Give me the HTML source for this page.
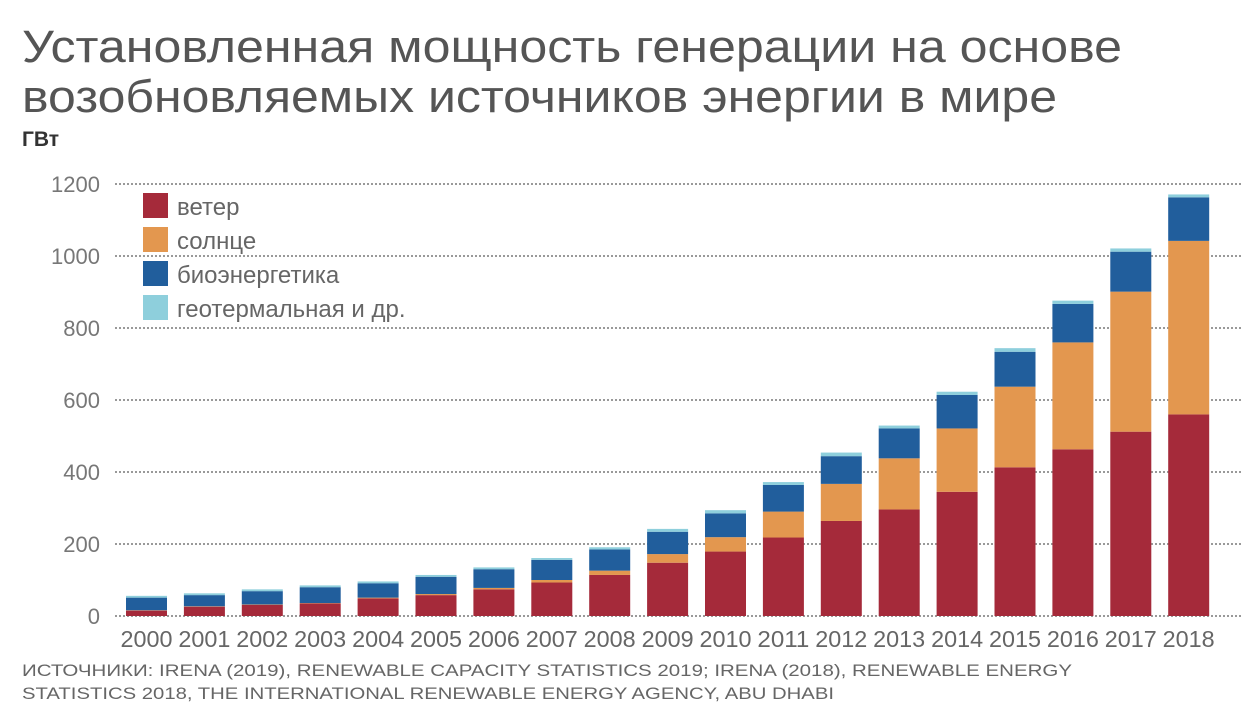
<!DOCTYPE html>
<html><head><meta charset="utf-8">
<style>
body{margin:0;background:#fff;width:1248px;height:720px;overflow:hidden;font-family:"Liberation Sans","DejaVu Sans",sans-serif}
svg text{font-family:"Liberation Sans","DejaVu Sans",sans-serif}
</style></head>
<body>
<svg id="chart" width="1248" height="720" xmlns="http://www.w3.org/2000/svg">
<text x="22" y="62" font-size="45" fill="#555" textLength="1100" lengthAdjust="spacingAndGlyphs">Установленная мощность генерации на основе</text>
<text x="22" y="112" font-size="45" fill="#555" textLength="1035" lengthAdjust="spacingAndGlyphs">возобновляемых источников энергии в мире</text>
<text x="22" y="146" font-size="21" font-weight="bold" fill="#333">ГВт</text>
<g id="grid"></g><g id="bars"></g><g id="xlabels"></g>
<g>
<rect x="143" y="193" width="25" height="25" fill="#a52a3a"/>
<text x="177" y="215" font-size="24" fill="#666">ветер</text>
<rect x="143" y="227" width="25" height="25" fill="#e3974f"/>
<text x="177" y="249" font-size="24" fill="#666">солнце</text>
<rect x="143" y="261" width="25" height="25" fill="#215e9c"/>
<text x="177" y="283" font-size="24" fill="#666">биоэнергетика</text>
<rect x="143" y="295" width="25" height="25" fill="#8ecfdc"/>
<text x="177" y="317" font-size="24" fill="#666">геотермальная и др.</text>
</g>
<text x="22" y="676" font-size="17" fill="#666" textLength="1050" lengthAdjust="spacingAndGlyphs">ИСТОЧНИКИ: IRENA (2019), RENEWABLE CAPACITY STATISTICS 2019; IRENA (2018), RENEWABLE ENERGY</text>
<text x="22" y="699" font-size="17" fill="#666" textLength="812" lengthAdjust="spacingAndGlyphs">STATISTICS 2018, THE INTERNATIONAL RENEWABLE ENERGY AGENCY, ABU DHABI</text>
</svg>
<script>
const years=[2000,2001,2002,2003,2004,2005,2006,2007,2008,2009,2010,2011,2012,2013,2014,2015,2016,2017,2018];
const wind=[15,26,31,35,49,58,74,93,114,148,179,218,264,296,345,413,463,512,560];
const solar=[1,1,1,1,2,3,4,7,12,24,40,72,103,142,176,224,297,389,482];
const bio=[35,31,37,44,40,48,52,56,59,62,66,74,77,83,93,97,107,111,121];
const geo=[5,5,5,5,5,5,5,5,6,8,9,8,10,8,9,10,9,9,8];
const yTicks=[0,200,400,600,800,1000,1200];
const NS='http://www.w3.org/2000/svg';
const y=v=>616-v*0.36;
const x=i=>146.5+i*57.9;
const bw=41;
function mk(tag,attrs,parent){const e=document.createElementNS(NS,tag);for(const k in attrs)e.setAttribute(k,attrs[k]);parent.appendChild(e);return e;}
const grid=document.getElementById('grid');
yTicks.forEach(t=>{
  const l=mk('line',{x1:115,x2:1242,y1:y(t),y2:y(t),stroke:'#999','stroke-width':2,'stroke-dasharray':'2 2'},grid);
  
  
  const tx=mk('text',{x:100,y:y(t)+8,'font-size':22,fill:'#777','text-anchor':'end'},grid);
  tx.textContent=t;
  
  
});
const bars=document.getElementById('bars');
const series=[['wind',wind,'#a52a3a'],['solar',solar,'#e3974f'],['bio',bio,'#215e9c'],['geo',geo,'#8ecfdc']];
years.forEach((yr,i)=>{
  let base=0;
  series.forEach(([n,arr,c])=>{
    const v=arr[i];
    const r=mk('rect',{x:x(i)-bw/2,y:y(base+v),width:bw,height:v*0.36,fill:c},bars);
    
    
    base+=v;
  });
  const tx=mk('text',{x:x(i),y:647,'font-size':23,fill:'#666','text-anchor':'middle',textLength:52,lengthAdjust:'spacingAndGlyphs'},document.getElementById('xlabels'));
  tx.textContent=yr;
  
  
});
</script>
</body></html>
